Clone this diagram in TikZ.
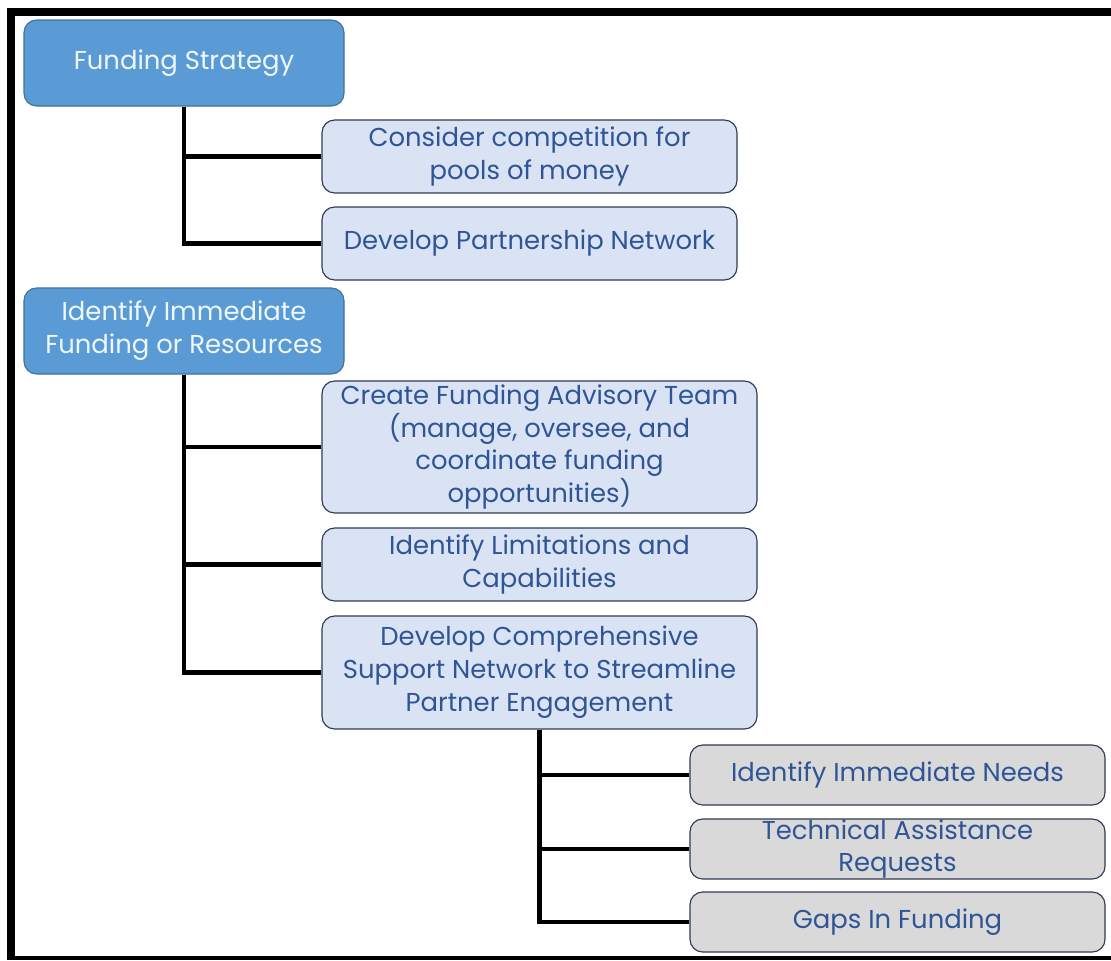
\documentclass[tikz,border=0pt]{standalone}
\usepackage{fontspec}
\setmainfont{Poppins}
\definecolor{darkfill}{HTML}{5B9BD5}
\definecolor{darkedge}{HTML}{41719C}
\definecolor{darktext}{HTML}{EEF7FB}
\definecolor{lightfill}{HTML}{DAE3F3}
\definecolor{boxedge}{HTML}{2E3A55}
\definecolor{bluetext}{HTML}{2F5597}
\definecolor{greyfill}{HTML}{D9D9D9}
\begin{document}
\begin{tikzpicture}[x=0.025cm,y=-0.025cm,
  base/.style={rounded corners=9pt, align=center, inner sep=0pt, font=\fontsize{18.4}{23.4}\selectfont, line width=0.8pt},
  topbox/.style={base, fill=darkfill, draw=darkedge, text=darktext, minimum width=320*0.025cm, minimum height=86*0.025cm},
  subbox/.style={base, fill=lightfill, draw=boxedge, text=bluetext},
  leafbox/.style={base, fill=greyfill, draw=boxedge, text=bluetext, minimum width=415*0.025cm, minimum height=60*0.025cm},
  link/.style={line width=3pt, black}]
\useasboundingbox (0,0) rectangle (1111,960);
\fill[white] (0,0) rectangle (1111,960);
% frame
\fill[black] (7,8) rectangle (1111,16);
\fill[black] (7,8) rectangle (15,960);
\fill[black] (7,956) rectangle (1111,960);

\node[topbox] (fs) at (184,63) {Funding Strategy};
\node[subbox, minimum width=415*0.025cm, minimum height=73*0.025cm] (cc) at (529.5,156.5) {Consider competition for\\pools of money};
\node[subbox, minimum width=415*0.025cm, minimum height=73*0.025cm] (dpn) at (529.5,243.5) {Develop Partnership Network};

\node[topbox] (iif) at (184,331) {Identify Immediate\\Funding or Resources};
\node[subbox, minimum width=435*0.025cm, minimum height=132*0.025cm] (cfat) at (539.5,447) {Create Funding Advisory Team\\(manage, oversee, and\\coordinate funding\\opportunities)};
\node[subbox, minimum width=435*0.025cm, minimum height=73*0.025cm] (ilc) at (539.5,564.5) {Identify Limitations and\\Capabilities};
\node[subbox, minimum width=435*0.025cm, minimum height=113*0.025cm] (dcs) at (539.5,672.5) {Develop Comprehensive\\Support Network to Streamline\\Partner Engagement};

\node[leafbox] (iin) at (897.5,775) {Identify Immediate Needs};
\node[leafbox] (tar) at (897.5,849) {Technical Assistance\\Requests};
\node[leafbox] (gif) at (897.5,922) {Gaps In Funding};

\draw[link] (fs.south) |- (cc.west);
\draw[link] (fs.south) |- (dpn.west);
\draw[link] (iif.south) |- (cfat.west);
\draw[link] (iif.south) |- (ilc.west);
\draw[link] (iif.south) |- (dcs.west);
\draw[link] (dcs.south) |- (iin.west);
\draw[link] (dcs.south) |- (tar.west);
\draw[link] (dcs.south) |- (gif.west);
\end{tikzpicture}
\end{document}
